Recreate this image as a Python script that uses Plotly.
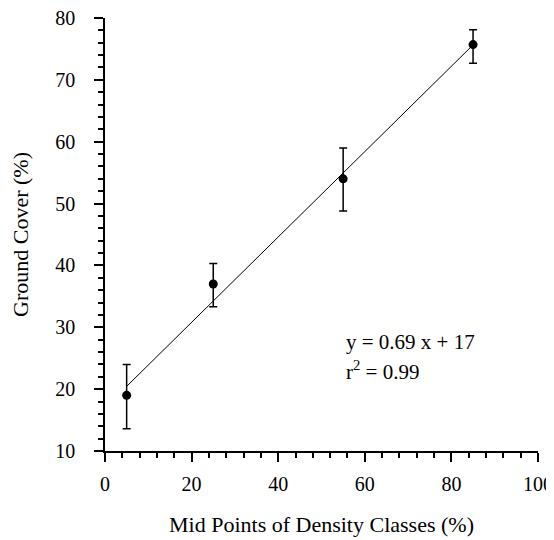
import plotly.graph_objects as go

density_mid = [5, 25, 55, 85]
ground_cover = [19, 37, 54, 75.7]
err_plus = [5.0, 3.3, 5.0, 2.4]
err_minus = [5.4, 3.7, 5.2, 3.0]
slope = 0.69
intercept = 17
fit_x = [5, 85]
fit_y = [slope * v + intercept for v in fit_x]

font = "Liberation Serif, Times New Roman, serif"
title_font = dict(family=font, size=22, color="black")

fig = go.Figure()
fig.add_trace(go.Scatter(x=fit_x, y=fit_y, mode="lines",
                         line=dict(color="black", width=1), showlegend=False))
fig.add_trace(go.Scatter(
    x=density_mid, y=ground_cover, mode="markers",
    marker=dict(color="black", size=9),
    error_y=dict(type="data", symmetric=False, array=err_plus, arrayminus=err_minus,
                 color="black", thickness=1.5, width=4),
    showlegend=False))

fig.add_annotation(x=0.552, y=0.252, xref="paper", yref="paper", showarrow=False,
                   xanchor="left", yanchor="middle",
                   text="y = 0.69 x + 17", font=dict(family=font, size=21, color="black"))
fig.add_annotation(x=0.552, y=0.185, xref="paper", yref="paper", showarrow=False,
                   xanchor="left", yanchor="middle",
                   text="r<sup>2</sup> = 0.99", font=dict(family=font, size=21, color="black"))

# page body has an 8px default margin; size the figure to fit the 554x540 window
fig.update_layout(
    width=546, height=532,
    margin=dict(l=97, r=16, t=10, b=89),
    plot_bgcolor="white", paper_bgcolor="white",
    font=dict(family=font, size=20, color="black"),
    xaxis=dict(range=[0, 100], dtick=20, tick0=0, showgrid=False, zeroline=False,
               automargin=False, ticklabeloverflow="allow",
               showline=True, linecolor="black", linewidth=1.5,
               ticks="outside", ticklen=9, tickwidth=1.5, tickcolor="black",
               ticklabelstandoff=5,
               minor=dict(dtick=4, ticks="outside", ticklen=5, tickwidth=1.5, tickcolor="black"),
               title=dict(text="Mid Points of Density Classes (%)", standoff=23,
                          font=title_font)),
    yaxis=dict(range=[10, 80], dtick=10, tick0=10, showgrid=False, zeroline=False,
               automargin=False, ticklabeloverflow="allow",
               showline=True, linecolor="black", linewidth=1.5,
               ticks="outside", ticklen=9, tickwidth=1.5, tickcolor="black",
               ticklabelstandoff=15,
               minor=dict(dtick=2, ticks="outside", ticklen=5, tickwidth=1.5, tickcolor="black"),
               title=dict(text="Ground Cover (%)", standoff=23, font=title_font)),
)

fig.write_html("out.html")
